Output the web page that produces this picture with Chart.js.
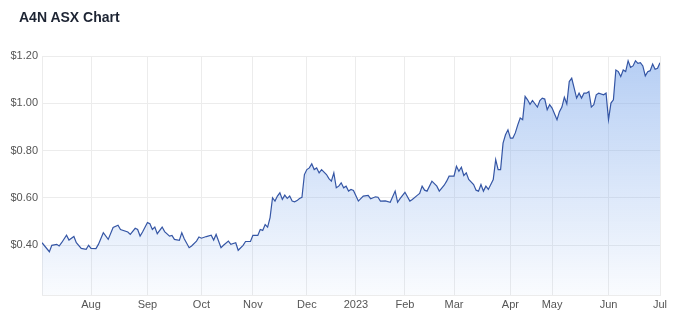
<!DOCTYPE html>
<html>
<head>
<meta charset="utf-8">
<script src="https://cdn.jsdelivr.net/npm/chart.js@4/dist/chart.umd.min.js"></script>
<style>
  html, body { margin: 0; padding: 0; background: #fff; }
  #wrap { position: relative; width: 690px; height: 327px; }
  #title { position: absolute; left: 19px; top: 9px; font: bold 14px "Liberation Sans", Arial, sans-serif; color: #1d2433; }
  canvas { display: block; }
</style>
</head>
<body>
<div id="wrap">
  <div id="title">A4N ASX Chart</div>
  <canvas id="a4nChart" width="690" height="327"></canvas>
</div>
<script>
// trading-day index since 4 Jul 2022, and the closing price at that day
const tradingDay = [0,3,4,6,7,8,10,11,13,14,16,18,19,20,22,23,25,27,29,31,32,35,36,38,39,40,41,43,44,45,46,47,49,50,52,53,54,56,57,58,60,61,63,64,65,67,69,70,71,73,74,76,77,79,80,82,83,85,86,88,89,90,91,92,93,94,95,96,97,98,99,100,101,102,103,104,105,106,107,108,109,110,111,112,113,114,116,117,118,119,120,121,122,123,124,125,126,127,129,131,133,134,136,137,138,140,142,144,145,146,148,150,151,153,154,155,156,157,159,161,162,164,165,166,168,169,170,171,172,173,174,176,177,178,179,180,181,182,184,185,186,187,188,189,190,191,192,193,194,195,196,197,198,199,200,202,203,204,205,206,207,208,210,211,212,213,214,215,216,217,218,219,220,221,222,223,224,225,226,227,229,230,231,232,233,234,235,236,237,238,239,240,241,242,243,244,245,246,247,248,249,250,251,252];
const price = [0.411,0.373,0.400,0.404,0.397,0.411,0.443,0.422,0.437,0.411,0.387,0.383,0.400,0.387,0.386,0.404,0.453,0.425,0.475,0.485,0.467,0.456,0.446,0.472,0.467,0.439,0.456,0.496,0.491,0.467,0.477,0.449,0.477,0.458,0.439,0.442,0.425,0.421,0.453,0.428,0.390,0.397,0.418,0.435,0.430,0.437,0.443,0.422,0.446,0.390,0.400,0.418,0.404,0.411,0.379,0.400,0.416,0.416,0.442,0.442,0.467,0.463,0.488,0.477,0.517,0.601,0.587,0.608,0.622,0.594,0.612,0.598,0.608,0.587,0.584,0.589,0.598,0.603,0.699,0.720,0.727,0.744,0.720,0.727,0.706,0.720,0.699,0.682,0.671,0.706,0.643,0.650,0.664,0.643,0.650,0.629,0.636,0.632,0.587,0.608,0.611,0.597,0.605,0.603,0.587,0.588,0.582,0.629,0.582,0.597,0.624,0.587,0.594,0.611,0.619,0.650,0.633,0.629,0.671,0.650,0.629,0.654,0.671,0.692,0.692,0.734,0.713,0.730,0.695,0.706,0.678,0.657,0.633,0.629,0.657,0.629,0.650,0.636,0.678,0.762,0.720,0.720,0.832,0.867,0.888,0.853,0.853,0.875,0.909,0.938,0.931,1.029,1.015,0.996,1.012,0.984,1.012,1.022,1.018,0.973,0.994,0.980,0.931,0.965,0.984,1.026,0.998,1.092,1.106,1.064,1.022,1.043,1.022,1.043,1.043,1.050,0.984,0.994,1.036,1.043,1.036,1.043,0.931,1.001,1.015,1.141,1.134,1.113,1.141,1.134,1.180,1.152,1.158,1.180,1.169,1.172,1.158,1.116,1.134,1.138,1.166,1.144,1.148,1.172];

// first trading day of each month
const monthTickDay = [20,43,65,86,108,128,148,168,191,208,231,252];
const monthLabels = ['Aug','Sep','Oct','Nov','Dec','2023','Feb','Mar','Apr','May','Jun','Jul'];
const yTicks = [0.40,0.60,0.80,1.00,1.20];

const points = tradingDay.map((d, i) => ({ x: d, y: price[i] }));
const gridColor = '#ececec';
const tickFont = { family: '"Liberation Sans", Arial, sans-serif', size: 11 };

const ctx = document.getElementById('a4nChart').getContext('2d');
const chart = new Chart(ctx, {
    type: 'line',
    data: {
        datasets: [{
            label: 'A4N',
            data: points,
            borderColor: '#3556a5',
            borderWidth: 1.2,
            pointRadius: 0,
            tension: 0,
            fill: 'start',
            backgroundColor: function(c) {
                const area = c.chart.chartArea;
                if (!area) return 'rgba(120,165,235,0.3)';
                const g = c.chart.ctx.createLinearGradient(0, area.top, 0, area.bottom);
                g.addColorStop(0, 'rgba(120,165,235,0.55)');
                g.addColorStop(1, 'rgba(120,165,235,0.04)');
                return g;
            }
        }]
    },
    options: {
        responsive: false,
        animation: false,
        layout: { padding: { top: 56, right: 30, left: 0, bottom: 0 } },
        plugins: { legend: { display: false }, tooltip: { enabled: false } },
        scales: {
            x: {
                type: 'linear',
                min: 0,
                max: 252,
                afterBuildTicks: s => { s.ticks = monthTickDay.map(v => ({ value: v })); },
                afterFit: s => { s.height = 32; },
                grid: { color: gridColor, drawTicks: false },
                border: { color: gridColor },
                ticks: {
                    autoSkip: false,
                    maxRotation: 0,
                    padding: 3,
                    color: '#555',
                    font: tickFont,
                    callback: (v, i) => monthLabels[i]
                }
            },
            y: {
                min: 0.19,
                max: 1.2,
                afterBuildTicks: s => { s.ticks = yTicks.map(v => ({ value: v })); },
                afterFit: s => { s.width = 42; },
                grid: { color: gridColor, drawTicks: false },
                border: { color: gridColor },
                ticks: {
                    padding: 4,
                    color: '#555',
                    font: tickFont,
                    callback: v => '$' + v.toFixed(2)
                }
            }
        }
    }
});
</script>
</body>
</html>
